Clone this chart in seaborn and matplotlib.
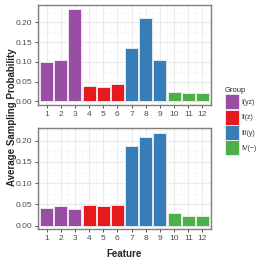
import matplotlib
matplotlib.use("Agg")
import matplotlib.pyplot as plt
import seaborn as sns
import pandas as pd
import numpy as np
from matplotlib.ticker import MultipleLocator
from matplotlib.patches import Patch

features = list(range(1, 13))
groups = ["I(yz)"] * 3 + ["II(z)"] * 3 + ["III(y)"] * 3 + ["IV(\u2212)"] * 3
top_values = [0.099, 0.106, 0.233, 0.039, 0.036, 0.044, 0.134, 0.210, 0.106, 0.024, 0.021, 0.021]
bottom_values = [0.041, 0.047, 0.039, 0.049, 0.046, 0.048, 0.187, 0.208, 0.219, 0.030, 0.023, 0.023]
group_order = ["I(yz)", "II(z)", "III(y)", "IV(\u2212)"]
palette = ["#984EA3", "#E41A1C", "#377EB8", "#4DAF4A"]

sns.set_theme(style="white")
plt.rcParams['font.family'] = ['Liberation Sans', 'DejaVu Sans']

fig = plt.figure(figsize=(2.6, 2.6), dpi=100)
ax1 = fig.add_axes([38/260, 1 - 105/260, (211-38)/260, 100/260])
ax2 = fig.add_axes([38/260, 1 - 229/260, (211-38)/260, 101/260])

for ax, vals, ylim in [(ax1, top_values, (-0.009, 0.244)), (ax2, bottom_values, (-0.008, 0.23))]:
    df = pd.DataFrame({"Feature": [str(f) for f in features], "Value": vals, "Group": groups})
    sns.barplot(data=df, x="Feature", y="Value", hue="Group", hue_order=group_order,
                palette=palette, dodge=False, width=0.92, ax=ax, legend=False,
                edgecolor="#f0f0f0", linewidth=0.6, saturation=1, zorder=3)
    ax.set_ylim(*ylim)
    ax.set_xlim(-0.6, 11.6)
    ax.yaxis.set_major_locator(MultipleLocator(0.05))
    ax.yaxis.set_minor_locator(MultipleLocator(0.025))
    ax.yaxis.set_major_formatter(matplotlib.ticker.FormatStrFormatter('%.2f'))
    ax.set_xticks(range(12))
    ax.set_xticks(np.arange(-0.5, 12, 1), minor=True)
    ax.grid(True, which="major", color="#ebebeb", linewidth=0.8, zorder=0)
    ax.grid(True, which="minor", color="#f3f3f3", linewidth=0.4, zorder=0)
    ax.set_axisbelow(True)
    for s in ax.spines.values():
        s.set_color("#7f7f7f")
        s.set_linewidth(1.0)
    ax.tick_params(axis="both", which="major", length=2.5, width=0.6, color="#333333",
                   labelsize=6, labelcolor="#4d4d4d", pad=1.5, bottom=True, left=True)
    ax.tick_params(axis="both", which="minor", length=0)
    ax.set_xlabel("")
    ax.set_ylabel("")

fig.text(12/260, 1 - 117/260, "Average Sampling Probability", rotation=90, ha="center",
         va="center", fontsize=7, fontweight="bold")
fig.text(124/260, 1 - 254/260, "Feature", ha="center", va="center", fontsize=7, fontweight="bold")

handles = [Patch(facecolor=c, edgecolor="#f0f0f0", linewidth=0.6) for c in palette]
leg = fig.legend(handles, group_order, title="Group", loc="upper left",
                 bbox_to_anchor=(225/260, 1 - 87/260), frameon=False, fontsize=5,
                 title_fontsize=5.5, handlelength=2.0, handleheight=2.95,
                 handletextpad=0.4, labelspacing=0.05, borderaxespad=0, borderpad=0)
leg._legend_box.align = "left"
for t in leg.get_texts():
    t.set_color("#333333")

fig.savefig("out.png", dpi=100)
